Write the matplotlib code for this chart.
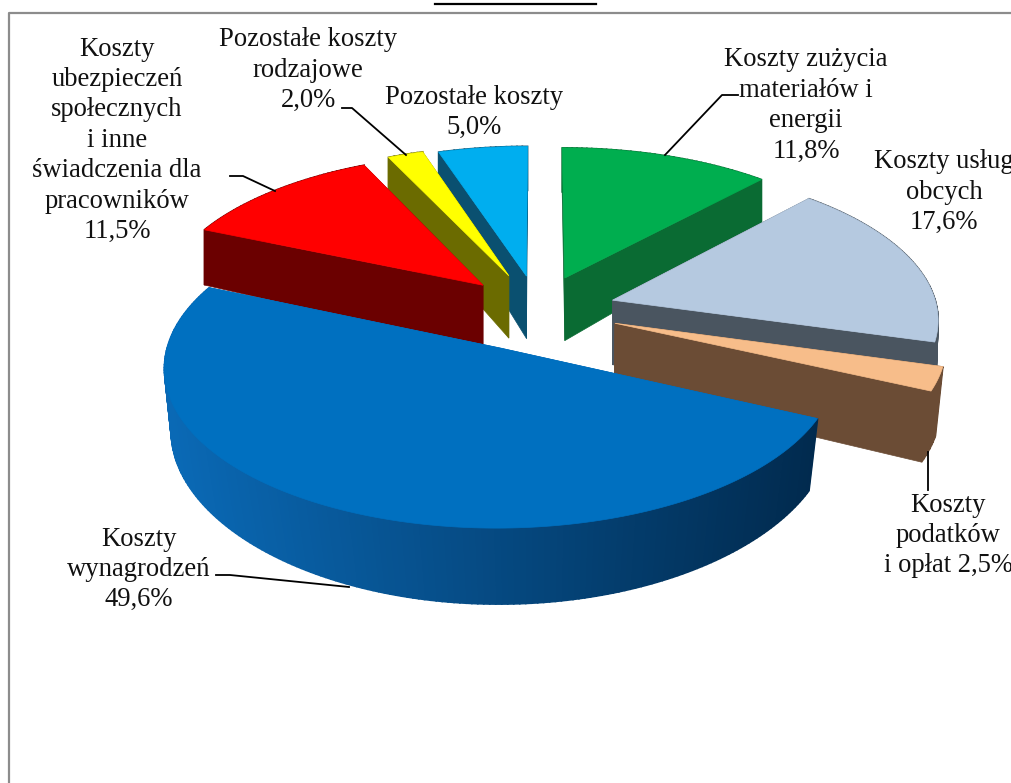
import numpy as np
import matplotlib
matplotlib.use("Agg")
import matplotlib.pyplot as plt
from matplotlib.patches import Polygon
from matplotlib.colors import to_rgb

# values in %, clockwise from 12 o'clock
values = [11.8, 17.6, 2.5, 49.6, 11.5, 2.0, 5.0]
top_colors = ["#00ae4f", "#b5c9e0", "#f7bd8a", "#0070c0", "#ff0000", "#ffff00", "#00aeef"]
side_colors = ["#0a6b33", "#4a5560", "#6b4c35", "#0a66b0", "#6b0000", "#6b6b00", "#0a5070"]
explode = [0.233, 0.24, 0.25, 0.27, 0.24, 0.25, 0.233]
draw_order = [6, 5, 4, 0, 1, 2, 3]

labels = [
    (806, 60, ["Koszty zużycia", "materiałów i", "energii", "11,8%"]),
    (944, 162, ["Koszty usług", "obcych", "17,6%"]),
    (948, 505, ["Koszty", "podatków", "i opłat 2,5%"]),
    (139, 539, ["Koszty", "wynagrodzeń", "49,6%"]),
    (117, 49, ["Koszty", "ubezpieczeń", "społecznych", "i inne", "świadczenia dla", "pracowników", "11,5%"]),
    (308, 40, ["Pozostałe koszty", "rodzajowe", "2,0%"]),
    (474, 97, ["Pozostałe koszty", "5,0%"]),
]
leaders = [
    [(738, 95), (722, 95), (665, 155)],
    [(230, 176), (243, 176), (275, 191)],
    [(342, 108), (352, 108), (406, 155)],
    [(928, 452), (928, 490)],
    [(216, 575), (230, 575), (349, 587)],
]

CX, CY = 538, 310
RX, RY = 325, 151
K = 0.11
# wall height at a given depth in the disc
wall_v = [-1.2, -0.9, -0.2, 0.5, 1.25]
wall_h = [44, 48, 63, 71, 76]


def project(u, v, drop=False):
    w = 1 / (1 - K * v)
    x = CX + RX * u * w
    y = CY + RY * v * w
    if drop:
        y = y + np.interp(v, wall_v, wall_h)
        x = CX + (x - CX) * (1 - 0.04 * max(v + 0.1, 0))
    return x, y


fig = plt.figure(figsize=(10.11, 7.83), dpi=100)
ax = fig.add_axes([0, 0, 1, 1])
ax.set_xlim(0, 1011)
ax.set_ylim(783, 0)
ax.axis("off")

# frame and the cut off heading rule above it
ax.plot([8.5, 8.5, 1011], [783, 13, 13], color="#8c8c8c", lw=1.6)
ax.plot([435, 596], [3.5, 3.5], color="black", lw=1.6)

edges = np.cumsum([0] + values) / 100 * 2 * np.pi

for i in draw_order:
    a0, a1 = edges[i], edges[i + 1]
    mid = (a0 + a1) / 2
    ou, ov = explode[i] * np.sin(mid), -explode[i] * np.cos(mid)
    theta = np.linspace(a0, a1, max(int((a1 - a0) * 60), 4))
    us = ou + np.sin(theta)
    vs = ov - np.cos(theta)
    top_arc = [project(u, v) for u, v in zip(us, vs)]
    low_arc = [project(u, v, True) for u, v in zip(us, vs)]
    apex = project(ou, ov)
    apex_low = project(ou, ov, True)

    # cut faces
    for j in (0, -1):
        ax.add_patch(Polygon([apex, top_arc[j], low_arc[j], apex_low],
                             fc=side_colors[i], ec=side_colors[i], lw=0.5))

    # outer wall, shaded along the arc for the big slice
    n = len(top_arc)
    for j in range(n - 1):
        col = side_colors[i]
        if i == 3:
            # light at the left, dark at the right
            t = (top_arc[j][0] - 170) / 650
            t = min(max(t, 0), 1)
            c0 = np.array(to_rgb("#0a69b5"))
            c1 = np.array(to_rgb("#012a4e"))
            col = tuple(c0 + (c1 - c0) * t)
        ax.add_patch(Polygon([top_arc[j], top_arc[j + 1], low_arc[j + 1], low_arc[j]],
                             fc=col, ec=col, lw=1.2))

    ax.add_patch(Polygon([apex] + top_arc, fc=top_colors[i], ec=top_colors[i], lw=0.5))

for pts in leaders:
    ax.plot([p[0] for p in pts], [p[1] for p in pts], color="black", lw=1.3)

for x, y, lines in labels:
    for n, line in enumerate(lines):
        ax.text(x, y + n * 30.4, line, ha="center", va="center",
                family="Liberation Serif", fontsize=19.2, color="#111111")

fig.savefig("out.png", dpi=100)
